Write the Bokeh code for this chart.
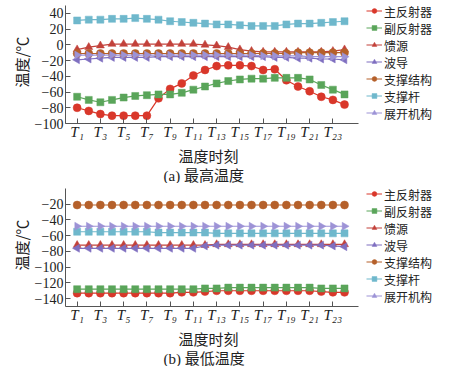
import math
from bokeh.plotting import figure
from bokeh.layouts import column
from bokeh.models import FixedTicker, Legend, LegendItem, Title, Range1d
from bokeh.embed import file_html
from bokeh.resources import INLINE

# ---------------- data ----------------
times = list(range(1, 25))
x_tick_pos = [1, 3, 5, 7, 9, 11, 13, 15, 17, 19, 21, 23]
x_tick_labels = ["T₁", "T₃", "T₅", "T₇", "T₉", "T₁₁", "T₁₃", "T₁₅", "T₁₇", "T₁₉", "T₂₁", "T₂₃"]

series_names = ["主反射器", "副反射器", "馈源", "波导", "支撑结构", "支撑杆", "展开机构"]

# (a) maximum temperature
zhu_max = [-80, -84, -88, -90, -90, -90, -90, -68, -56, -49, -39, -32, -27, -26, -26, -27, -32, -31, -45, -53, -59, -66, -70, -76]
fu_max = [-66, -70, -73, -70, -67, -65, -64, -63, -63, -61, -57, -53, -49, -46, -44, -43, -43, -42, -42, -42, -44, -51, -57, -63]
kui_max = [-6, -3, -1, 1, 1, 1, 1, 1, 1, 1, 1, 0, -1, -3, -6, -8, -9, -9, -9, -9, -9, -9, -8, -6]
bodao_max = [-19, -18, -17, -16, -16, -16, -16, -15, -15, -15, -15, -15, -15, -15, -15, -15, -15, -16, -16, -17, -17, -18, -18, -19]
jiegou_max = [-11, -11, -11, -11, -11, -11, -11, -11, -11, -11, -11, -11, -11, -11, -11, -11, -11, -11, -11, -10, -10, -10, -10, -10]
gan_max = [31, 32, 32, 33, 33, 34, 33, 32, 30, 29, 28, 27, 26, 26, 25, 24, 24, 24, 26, 27, 27, 28, 29, 30]
zhankai_max = [-13, -13, -13, -13, -13, -13, -13, -13, -13, -13, -13, -13, -13, -13, -13, -13, -14, -14, -14, -14, -15, -15, -15, -15]

# (b) minimum temperature
zhu_min = [-133, -133, -133, -133, -133, -133, -133, -133, -133, -132, -132, -131, -130, -130, -130, -130, -130, -130, -130, -130, -130, -131, -132, -132]
fu_min = [-128, -128, -128, -128, -128, -128, -128, -128, -128, -128, -128, -127, -127, -126, -126, -126, -126, -126, -126, -126, -126, -127, -127, -127]
kui_min = [-72, -72, -72, -72, -72, -72, -72, -72, -72, -72, -72, -72, -71, -71, -71, -71, -71, -71, -71, -71, -71, -71, -71, -71]
bodao_min = [-76, -76, -76, -76, -76, -76, -76, -76, -76, -76, -76, -73, -72, -72, -72, -72, -72, -72, -72, -72, -72, -72, -73, -74]
jiegou_min = [-21, -21, -21, -21, -21, -21, -21, -21, -21, -21, -21, -21, -21, -21, -21, -21, -21, -21, -21, -21, -21, -21, -21, -21]
gan_min = [-55, -55, -55, -55, -55, -55, -55, -56, -56, -56, -56, -56, -57, -57, -57, -57, -57, -57, -57, -57, -57, -57, -57, -57]
zhankai_min = [-48, -48, -48, -48, -48, -48, -48, -48, -48, -48, -48, -48, -48, -48, -48, -48, -48, -48, -48, -48, -48, -48, -48, -48]

y_ticks_a = [-100, -80, -60, -40, -20, 0, 20, 40]
y_ticks_b = [-140, -120, -100, -80, -60, -40, -20]
y_axis_a = (-100, 50)
y_axis_b = (-150, 0)

x_title = "温度时刻"
y_title = "温度/℃"
captions = ["(a) 最高温度", "(b) 最低温度"]

# ---------------- styles ----------------
colors = ["#d9372a", "#5aa55a", "#c2413a", "#7f6fc0", "#b5602a", "#6fb8cc", "#9d93d6"]
markers = ["circle", "square", "triangle", "triangle", "circle", "square", "triangle"]
angles = [0, 0, 0, math.pi / 2, 0, 0, -math.pi / 2]
sizes = [8, 7, 8, 8, 8, 7, 8]

CJK = "Noto Sans CJK SC"
SERIF = "Liberation Serif"
MIXED = "'Liberation Serif', 'Noto Sans CJK SC'"

X_AXIS_END = 25.2     # where the drawn x axis stops
X_VIEW_END = 33.46    # extra room on the right holds the legend
FRAME_H = 123
HEADROOM_PX = 5       # space above the drawn y axis (room for the legend)


def ylab(v):
    return ("−" + str(-v)) if v < 0 else str(v)


def make_fig(series, y_axis, y_ticks, caption):
    lo, hi = y_axis
    axis_px = FRAME_H - HEADROOM_PX
    top = hi + (hi - lo) * HEADROOM_PX / axis_px
    p = figure(frame_width=389, frame_height=FRAME_H, output_backend="svg",
               toolbar_location=None,
               x_range=Range1d(0, X_VIEW_END), y_range=Range1d(lo, top),
               min_border_left=65, min_border_top=0, min_border_bottom=0,
               min_border_right=0)
    p.outline_line_color = None
    p.xgrid.visible = False
    p.ygrid.visible = False

    items = []
    for name, vals, m, c, a, s in zip(series_names, series, markers, colors, angles, sizes):
        r1 = p.line(times, vals, line_color=c, line_width=1.2)
        r2 = p.scatter(times, vals, marker=m, size=s, angle=a, fill_color=c,
                       line_color=c, line_width=0.5)
        items.append(LegendItem(label=name, renderers=[r1, r2]))

    legend = Legend(items=items, location="center_right", margin=22, padding=0,
                    spacing=0, glyph_width=16, glyph_height=12, label_height=12,
                    label_standoff=2, border_line_color=None,
                    background_fill_alpha=0, label_text_font=CJK,
                    label_text_font_size="12px", label_text_color="#222222")
    p.add_layout(legend)

    # x axis
    xa = p.xaxis[0]
    xa.bounds = (0, X_AXIS_END)
    xa.ticker = FixedTicker(ticks=x_tick_pos)
    xa.major_label_overrides = dict(zip(x_tick_pos, x_tick_labels))
    xa.major_label_text_font = SERIF
    xa.major_label_text_font_style = "italic"
    xa.major_label_text_font_size = "15px"
    xa.major_label_standoff = 0
    xa.major_tick_in = 5
    xa.major_tick_out = 0
    xa.minor_tick_line_color = None
    xa.axis_line_color = "#555555"
    xa.major_tick_line_color = "#555555"
    xa.major_label_text_color = "#222222"

    # y axis
    ya = p.yaxis[0]
    ya.bounds = (lo, hi)
    ya.ticker = FixedTicker(ticks=y_ticks)
    ya.major_label_overrides = {v: ylab(v) for v in y_ticks}
    ya.major_label_text_font = SERIF
    ya.major_label_text_font_size = "14px"
    ya.major_label_standoff = 2
    ya.major_tick_in = 5
    ya.major_tick_out = 0
    ya.minor_tick_line_color = None
    ya.axis_line_color = "#555555"
    ya.major_tick_line_color = "#555555"
    ya.axis_label = y_title
    ya.axis_label_text_font = CJK
    ya.axis_label_text_font_style = "normal"
    ya.axis_label_text_font_size = "15px"
    ya.axis_label_standoff = 0
    ya.axis_label_text_color = "#222222"
    ya.major_label_text_color = "#222222"

    # x-axis title, centred on the drawn part of the axis, then the caption
    xt = Title(text=x_title, align="left", offset=113, standoff=0, text_font=CJK,
               text_font_size="15px", text_font_style="normal", text_color="#222222")
    p.add_layout(xt, "below")
    cap = Title(text=caption, align="left", offset=98, standoff=0, text_font=MIXED,
                text_font_size="15px", text_font_style="normal",
                text_color="#222222")
    p.add_layout(cap, "below")
    return p


p1 = make_fig([zhu_max, fu_max, kui_max, bodao_max, jiegou_max, gan_max, zhankai_max],
              y_axis_a, y_ticks_a, captions[0])
p2 = make_fig([zhu_min, fu_min, kui_min, bodao_min, jiegou_min, gan_min, zhankai_min],
              y_axis_b, y_ticks_b, captions[1])

p = column(p1, p2)
open("out.html", "w").write(file_html(p, INLINE))
